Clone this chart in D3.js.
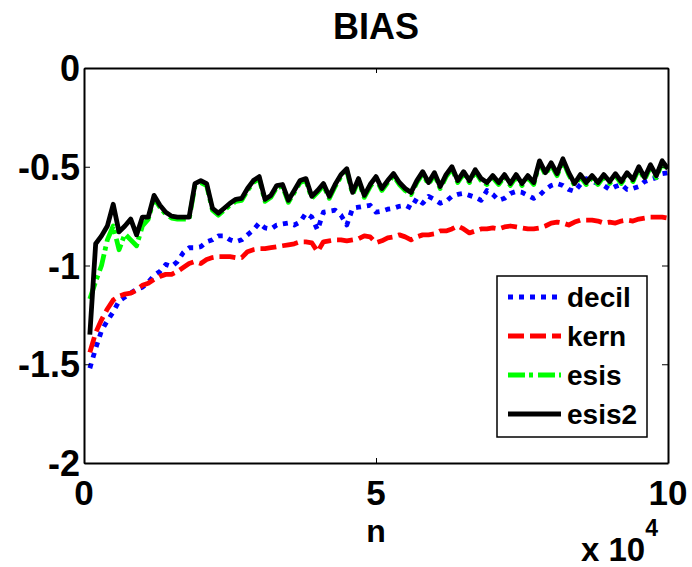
<!DOCTYPE html>
<html>
<head>
<meta charset="utf-8">
<script src="https://cdn.jsdelivr.net/npm/d3@7"></script>
<style>
  html, body { margin: 0; padding: 0; background: #fff; }
  svg text { font-family: "Liberation Sans", Arial, sans-serif; font-weight: bold; fill: #000; }
</style>
</head>
<body>
<svg id="chart" width="692" height="567"></svg>
<script>
// ---- data (n = 1000 ... 100000, step 1000) ----
const nValues = d3.range(1, 101).map(k => k * 1000);

const decil = [
  -1.52,-1.42,-1.33,-1.28,-1.235,-1.18,-1.16,-1.14,-1.12,-1.11,
  -1.085,-1.05,-1.03,-0.995,-1.005,-0.98,-0.935,-0.91,-0.91,-0.905,
  -0.88,-0.87,-0.85,-0.85,-0.87,-0.88,-0.87,-0.845,-0.82,-0.785,
  -0.81,-0.815,-0.795,-0.79,-0.785,-0.795,-0.78,-0.735,-0.755,-0.82,
  -0.73,-0.725,-0.72,-0.745,-0.795,-0.71,-0.705,-0.70,-0.695,-0.73,
  -0.725,-0.715,-0.71,-0.70,-0.695,-0.71,-0.66,-0.685,-0.65,-0.665,
  -0.685,-0.675,-0.65,-0.64,-0.635,-0.645,-0.655,-0.67,-0.62,-0.64,
  -0.67,-0.66,-0.635,-0.625,-0.63,-0.645,-0.66,-0.645,-0.615,-0.595,
  -0.585,-0.595,-0.615,-0.625,-0.59,-0.56,-0.575,-0.585,-0.595,-0.615,
  -0.60,-0.59,-0.615,-0.61,-0.60,-0.575,-0.565,-0.555,-0.535,-0.53
];

const kern = [
  -1.44,-1.34,-1.275,-1.22,-1.175,-1.155,-1.145,-1.14,-1.125,-1.10,
  -1.09,-1.07,-1.055,-1.045,-1.045,-1.03,-1.01,-0.99,-0.98,-0.99,
  -0.97,-0.96,-0.955,-0.955,-0.955,-0.96,-0.96,-0.93,-0.92,-0.915,
  -0.915,-0.91,-0.905,-0.90,-0.895,-0.89,-0.88,-0.88,-0.885,-0.93,
  -0.88,-0.875,-0.87,-0.87,-0.875,-0.87,-0.865,-0.85,-0.855,-0.885,
  -0.875,-0.86,-0.855,-0.845,-0.855,-0.87,-0.855,-0.845,-0.845,-0.84,
  -0.825,-0.825,-0.815,-0.80,-0.815,-0.835,-0.825,-0.815,-0.815,-0.81,
  -0.815,-0.805,-0.80,-0.805,-0.81,-0.815,-0.815,-0.81,-0.80,-0.785,
  -0.78,-0.785,-0.795,-0.78,-0.77,-0.77,-0.77,-0.775,-0.785,-0.78,
  -0.785,-0.775,-0.77,-0.775,-0.765,-0.76,-0.755,-0.755,-0.755,-0.76
];

const esis = [
  -1.17,-1.08,-1.00,-0.87,-0.80,-0.92,-0.84,-0.87,-0.90,-0.80,
  -0.765,-0.66,-0.705,-0.74,-0.76,-0.765,-0.765,-0.765,-0.595,-0.58,
  -0.595,-0.72,-0.745,-0.72,-0.695,-0.675,-0.67,-0.62,-0.58,-0.56,
  -0.675,-0.655,-0.605,-0.60,-0.68,-0.63,-0.58,-0.57,-0.66,-0.63,
  -0.595,-0.66,-0.60,-0.55,-0.52,-0.64,-0.57,-0.655,-0.60,-0.56,
  -0.62,-0.58,-0.545,-0.59,-0.62,-0.64,-0.58,-0.535,-0.59,-0.54,
  -0.61,-0.55,-0.51,-0.58,-0.535,-0.58,-0.525,-0.57,-0.59,-0.555,
  -0.59,-0.55,-0.595,-0.55,-0.595,-0.555,-0.59,-0.48,-0.54,-0.49,
  -0.545,-0.47,-0.54,-0.595,-0.55,-0.59,-0.555,-0.59,-0.55,-0.585,
  -0.545,-0.585,-0.54,-0.575,-0.51,-0.565,-0.50,-0.555,-0.48,-0.52
];

const esis2 = [
  -1.35,-0.89,-0.85,-0.80,-0.69,-0.83,-0.80,-0.765,-0.845,-0.755,
  -0.755,-0.645,-0.695,-0.73,-0.75,-0.755,-0.755,-0.755,-0.585,-0.57,
  -0.585,-0.71,-0.735,-0.71,-0.685,-0.665,-0.66,-0.61,-0.57,-0.55,
  -0.665,-0.645,-0.595,-0.59,-0.67,-0.62,-0.57,-0.56,-0.65,-0.62,
  -0.585,-0.65,-0.59,-0.54,-0.51,-0.63,-0.56,-0.645,-0.59,-0.55,
  -0.61,-0.57,-0.535,-0.58,-0.61,-0.63,-0.57,-0.525,-0.58,-0.53,
  -0.60,-0.54,-0.50,-0.57,-0.525,-0.57,-0.515,-0.56,-0.58,-0.545,
  -0.58,-0.54,-0.585,-0.54,-0.585,-0.545,-0.58,-0.47,-0.53,-0.48,
  -0.535,-0.46,-0.53,-0.585,-0.54,-0.58,-0.545,-0.58,-0.54,-0.575,
  -0.535,-0.575,-0.53,-0.565,-0.50,-0.555,-0.49,-0.545,-0.47,-0.51
];

const seriesNames = ["decil", "kern", "esis", "esis2"];
const seriesData = [decil, kern, esis, esis2];
const seriesColors = ["#0000ff", "#ff0000", "#00ff00", "#000000"];
const seriesDash = ["5,6", "16,6", "17,4,4,5", null];

const xTicks = [0, 50000, 100000];
const xTickLabels = ["0", "5", "10"];
const yTicks = [0, -0.5, -1, -1.5, -2];
const yTickLabels = ["0", "-0.5", "-1", "-1.5", "-2"];

// ---- layout ----
const svg = d3.select("#chart");
const pL = 84, pR = 668, pT = 68, pB = 463;

const x = d3.scaleLinear().domain([0, 100000]).range([pL, pR]);
const y = d3.scaleLinear().domain([-2, 0]).range([pB, pT]);

// title
svg.append("text").attr("x", 376).attr("y", 39).attr("text-anchor", "middle")
  .style("font-size", "36px").text("BIAS");

// clip
svg.append("clipPath").attr("id", "clip").append("rect")
  .attr("x", pL).attr("y", pT).attr("width", pR - pL).attr("height", pB - pT);

// series lines
const line = d3.line().x((d, i) => x(nValues[i])).y(d => y(d));
const g = svg.append("g").attr("clip-path", "url(#clip)");
seriesData.forEach((data, i) => {
  g.append("path").datum(data)
    .attr("d", line)
    .attr("fill", "none")
    .attr("stroke", seriesColors[i])
    .attr("stroke-width", 4.8)
    .attr("stroke-linejoin", "round")
    .attr("stroke-dasharray", seriesDash[i]);
});

// axes (MATLAB-style box with inward ticks)
const axB = d3.axisBottom(x).tickValues(xTicks).tickSize(-5).tickSizeOuter(0).tickFormat("");
const axT = d3.axisTop(x).tickValues(xTicks).tickSize(-5).tickSizeOuter(0).tickFormat("");
const axL = d3.axisLeft(y).tickValues(yTicks).tickSize(-6).tickSizeOuter(0).tickFormat("");
const axR = d3.axisRight(y).tickValues(yTicks).tickSize(-6).tickSizeOuter(0).tickFormat("");
function styleAxis(sel) {
  sel.selectAll(".domain").attr("stroke", "#000").attr("stroke-width", 2);
  sel.selectAll(".tick line").attr("stroke", "#000").attr("stroke-width", 1);
}
svg.append("g").attr("transform", `translate(0,${pB})`).call(axB).call(styleAxis);
svg.append("g").attr("transform", `translate(0,${pT})`).call(axT).call(styleAxis);
svg.append("g").attr("transform", `translate(${pL},0)`).call(axL).call(styleAxis);
svg.append("g").attr("transform", `translate(${pR},0)`).call(axR).call(styleAxis);

// tick labels
xTicks.forEach((t, i) => {
  svg.append("text").attr("x", x(t)).attr("y", 505).attr("text-anchor", "middle")
    .style("font-size", "35px").text(xTickLabels[i]);
});
yTicks.forEach((t, i) => {
  svg.append("text").attr("x", 80).attr("y", y(t) + 13).attr("text-anchor", "end")
    .style("font-size", "36px").text(yTickLabels[i]);
});

// axis labels
svg.append("text").attr("x", 376).attr("y", 542).attr("text-anchor", "middle")
  .style("font-size", "32px").text("n");
const expo = svg.append("text").attr("x", 581).attr("y", 561).style("font-size", "33px");
expo.append("tspan").text("x 10");
expo.append("tspan").attr("dy", -25).style("font-size", "23px").text("4");

// legend
const lg = svg.append("g");
lg.append("rect").attr("x", 497).attr("y", 276).attr("width", 150).attr("height", 161)
  .attr("fill", "#fff").attr("stroke", "#000").attr("stroke-width", 1.5);
const legendY = d3.scalePoint().domain(seriesNames).range([297, 414]);
seriesNames.forEach((name, i) => {
  const yy = legendY(name);
  lg.append("line").attr("x1", 508).attr("x2", 561).attr("y1", yy).attr("y2", yy)
    .attr("stroke", seriesColors[i]).attr("stroke-width", 4.8)
    .attr("stroke-dasharray", seriesDash[i]);
  lg.append("text").attr("x", 567).attr("y", yy + 10).style("font-size", "28px").text(name);
});
</script>
</body>
</html>
